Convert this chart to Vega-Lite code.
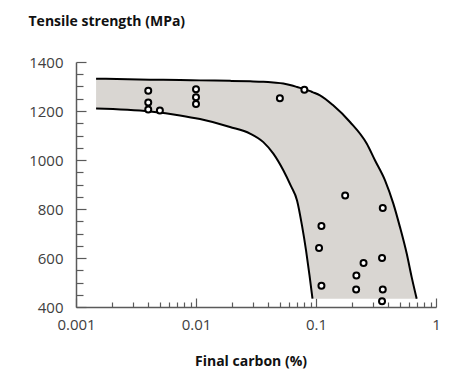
{
  "$schema": "https://vega.github.io/schema/vega-lite/v6.json",
  "width": 360,
  "height": 245,
  "autosize": {"type": "none"},
  "padding": {"left": 76, "top": 62, "right": 31, "bottom": 68},
  "background": "white",
  "config": {
    "view": {"stroke": null},
    "font": "Open Sans",
    "axis": {"grid": false, "domainColor": "#5a5a5a", "tickColor": "#5a5a5a", "domainWidth": 1.5, "tickWidth": 1.2, "labelColor": "#404040", "labelFont": "Open Sans", "labelFontSize": 15, "titleFont": "Open Sans", "titleColor": "#111111"}
  },
  "datasets": {
    "band": [
      {"carbon": 0.00147, "upper": 1332, "lower": 1210},
      {"carbon": 0.00414, "upper": 1328, "lower": 1198},
      {"carbon": 0.00736, "upper": 1327, "lower": 1182},
      {"carbon": 0.0108, "upper": 1325, "lower": 1167},
      {"carbon": 0.0192, "upper": 1323, "lower": 1135},
      {"carbon": 0.0282, "upper": 1321, "lower": 1108},
      {"carbon": 0.0364, "upper": 1319, "lower": 1073},
      {"carbon": 0.0441, "upper": 1316, "lower": 1026},
      {"carbon": 0.0534, "upper": 1312, "lower": 958},
      {"carbon": 0.0619, "upper": 1305, "lower": 893},
      {"carbon": 0.0695, "upper": 1298, "lower": 835},
      {"carbon": 0.0764, "upper": 1292, "lower": 733},
      {"carbon": 0.0826, "upper": 1287, "lower": 631},
      {"carbon": 0.0883, "upper": 1282, "lower": 529},
      {"carbon": 0.0935, "upper": 1277, "lower": 434},
      {"carbon": 0.108, "upper": 1264, "lower": 434},
      {"carbon": 0.139, "upper": 1223, "lower": 434},
      {"carbon": 0.192, "upper": 1155, "lower": 434},
      {"carbon": 0.2645, "upper": 1067, "lower": 434},
      {"carbon": 0.31, "upper": 999, "lower": 434},
      {"carbon": 0.376, "upper": 917, "lower": 434},
      {"carbon": 0.441, "upper": 822, "lower": 434},
      {"carbon": 0.501, "upper": 726, "lower": 434},
      {"carbon": 0.57, "upper": 618, "lower": 434},
      {"carbon": 0.627, "upper": 522, "lower": 434},
      {"carbon": 0.69, "upper": 434, "lower": 434}
    ],
    "points": [
      {"carbon": 0.004, "strength": 1283},
      {"carbon": 0.004, "strength": 1235},
      {"carbon": 0.004, "strength": 1206},
      {"carbon": 0.005, "strength": 1202},
      {"carbon": 0.01, "strength": 1289},
      {"carbon": 0.01, "strength": 1256},
      {"carbon": 0.01, "strength": 1229},
      {"carbon": 0.05, "strength": 1252},
      {"carbon": 0.08, "strength": 1287},
      {"carbon": 0.175, "strength": 855},
      {"carbon": 0.36, "strength": 804},
      {"carbon": 0.111, "strength": 731},
      {"carbon": 0.106, "strength": 641},
      {"carbon": 0.249, "strength": 580},
      {"carbon": 0.355, "strength": 600},
      {"carbon": 0.217, "strength": 529},
      {"carbon": 0.111, "strength": 487},
      {"carbon": 0.216, "strength": 471},
      {"carbon": 0.36, "strength": 471},
      {"carbon": 0.355, "strength": 423}
    ]
  },
  "layer": [
    {
      "data": {"name": "band"},
      "mark": {"type": "area", "color": "#d9d6d2", "interpolate": "monotone"},
      "encoding": {
        "x": {"field": "carbon", "type": "quantitative", "scale": {"type": "log", "domain": [0.001, 1], "nice": false},
          "axis": {"orient": "bottom", "values": [0.001, 0.01, 0.1, 1], "labelExpr": "datum.value == 1 ? '1' : datum.value == 0.1 ? '0.1' : datum.value == 0.01 ? '0.01' : '0.001'", "tickSize": -9, "labelPadding": 26, "labelBaseline": "middle", "title": "Final carbon (%)", "titleFontSize": 14, "titleFontWeight": "bold", "titleX": 174.5, "titleY": 54, "titleBaseline": "middle", "labelFlush": false}},
        "y": {"field": "upper", "type": "quantitative", "scale": {"domain": [400, 1400], "nice": false, "zero": false},
          "axis": {"orient": "left", "values": [400, 600, 800, 1000, 1200, 1400], "format": "d", "tickSize": -10, "labelPadding": 23, "title": "Tensile strength (MPa)", "titleAngle": 0, "titleAlign": "left", "titleBaseline": "middle", "titleX": -48, "titleY": -41, "titleFontSize": 14, "titleFontWeight": "bold"}},
        "y2": {"field": "lower"}
      }
    },
    {
      "data": {"name": "band"},
      "mark": {"type": "line", "color": "black", "strokeWidth": 2, "interpolate": "monotone"},
      "encoding": {
        "x": {"field": "carbon", "type": "quantitative", "axis": null},
        "y": {"field": "upper", "type": "quantitative", "axis": null}
      }
    },
    {
      "data": {"name": "band"},
      "transform": [{"filter": "datum.carbon <= 0.0936"}],
      "mark": {"type": "line", "color": "black", "strokeWidth": 2, "interpolate": "monotone"},
      "encoding": {
        "x": {"field": "carbon", "type": "quantitative", "axis": null},
        "y": {"field": "lower", "type": "quantitative", "axis": null}
      }
    },
    {
      "data": {"name": "points"},
      "mark": {"type": "point", "filled": false, "fill": "white", "fillOpacity": 1, "stroke": "black", "strokeWidth": 2, "size": 36, "opacity": 1},
      "encoding": {
        "x": {"field": "carbon", "type": "quantitative",
          "axis": {"orient": "bottom", "values": [0.002, 0.003, 0.004, 0.005, 0.006, 0.007, 0.008, 0.009, 0.02, 0.03, 0.04, 0.05, 0.06, 0.07, 0.08, 0.09, 0.2, 0.3, 0.4, 0.5, 0.6, 0.7, 0.8, 0.9], "tickSize": -5, "labels": false, "domain": false, "title": null}},
        "y": {"field": "strength", "type": "quantitative",
          "axis": {"orient": "left", "values": [450, 500, 550, 650, 700, 750, 850, 900, 950, 1050, 1100, 1150, 1250, 1300, 1350], "tickSize": -7, "labels": false, "domain": false, "title": null}}
      }
    }
  ],
  "resolve": {"axis": {"x": "independent", "y": "independent"}}
}
